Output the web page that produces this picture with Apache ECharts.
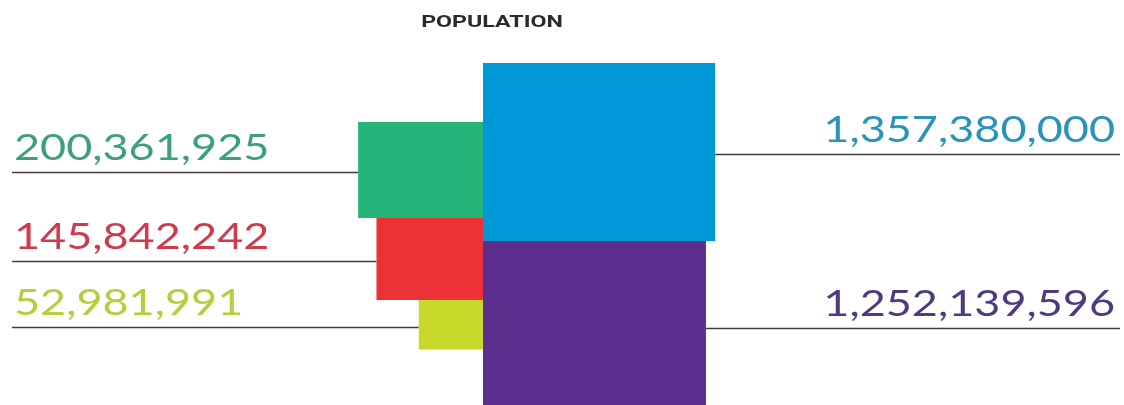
<!DOCTYPE html>
<html><head><meta charset="utf-8">
<script src="https://cdn.jsdelivr.net/npm/echarts@6/dist/echarts.min.js"></script>
<style>html,body{margin:0;padding:0;background:#fff}#c{width:1124px;height:405px}</style>
</head><body><div id="c"></div>
<script>
// ---- data ----
const titleText = 'POPULATION';
const rightCountries = ['China', 'India'];
const rightPopulation = [1357380000, 1252139596];
const leftCountries = ['Brazil', 'Russia', 'South Africa'];
const leftPopulation = [200361925, 145842242, 52981991];

// ---- styles ----
const rightFills = ['#0098d6', '#5b2d8e'];
const rightTextFills = ['#2a93bd', '#4f3a7e'];
const leftFills = ['#23b478', '#ec3237', '#c9d92c'];
const leftTextFills = ['#3c9f80', '#cf3a4c', '#b9cc3c'];

// square side = sqrt(population in millions); squares stacked downward
function stackData(countries, pops) {
  let off = 0;
  return pops.map((p, i) => {
    const s = Math.sqrt(p / 1e6);
    const d = { name: countries[i], value: [s, off, p] };
    off += s;
    return d;
  });
}

function makeRender(side, fills, textFills) {
  return function (params, api) {
    const s = api.value(0), off = api.value(1), pop = api.value(2);
    const a = api.coord([0, off]), b = api.coord([s, off + s]);
    const x0 = Math.min(a[0], b[0]), x1 = Math.max(a[0], b[0]);
    const y0 = Math.min(a[1], b[1]), y1 = Math.max(a[1], b[1]);
    const ly = Math.round((y0 + y1) / 2 + 2) + 0.5;
    const W = api.getWidth();
    const i = params.dataIndex;
    const label = Number(pop).toLocaleString('en-US');
    const rect = { type: 'rect', shape: { x: x0, y: y0, width: x1 - x0, height: y1 - y0 },
      style: { fill: fills[i] }, z2: 10 };
    let line, text;
    if (side === 'right') {
      line = { type: 'line', shape: { x1: x1, y1: ly, x2: W - 4, y2: ly },
        style: { stroke: '#3d3d3d', lineWidth: 1.5 } };
      text = { type: 'text', x: W - 9, y: ly - 24, scaleX: 1.25,
        style: { text: label, x: 0, y: 0, align: 'right', verticalAlign: 'middle',
          font: '36px Lato', fill: textFills[i] } };
    } else {
      line = { type: 'line', shape: { x1: 12, y1: ly, x2: x0, y2: ly },
        style: { stroke: '#3d3d3d', lineWidth: 1.5 } };
      text = { type: 'text', x: 14, y: ly - 24, scaleX: 1.25,
        style: { text: label, x: 0, y: 0, align: 'left', verticalAlign: 'middle',
          font: '36px Lato', fill: textFills[i] } };
    }
    return { type: 'group', children: [line, rect, text] };
  };
}

const chart = echarts.init(document.getElementById('c'));
chart.setOption({
  animation: false,
  backgroundColor: '#ffffff',
  graphic: [{
    type: 'text', x: 492, y: 23, scaleX: 1.45,
    style: { text: titleText, x: 0, y: 0, align: 'center', verticalAlign: 'middle',
      font: 'bold 16px Roboto', fill: '#2b2b2b' }
  }],
  grid: [
    { left: 483, top: 63, width: 252, height: 338.1 },
    { left: 306.6, top: 122, width: 176.4, height: 203.7 }
  ],
  xAxis: [
    { type: 'value', gridIndex: 0, min: 0, max: 40, show: false },
    { type: 'value', gridIndex: 1, min: 0, max: 20, inverse: true, show: false }
  ],
  yAxis: [
    { type: 'value', gridIndex: 0, min: 0, max: 70, inverse: true, show: false },
    { type: 'value', gridIndex: 1, min: 0, max: 30, inverse: true, show: false }
  ],
  series: [
    { type: 'custom', xAxisIndex: 0, yAxisIndex: 0, clip: false,
      renderItem: makeRender('right', rightFills, rightTextFills),
      data: stackData(rightCountries, rightPopulation) },
    { type: 'custom', xAxisIndex: 1, yAxisIndex: 1, clip: false,
      renderItem: makeRender('left', leftFills, leftTextFills),
      data: stackData(leftCountries, leftPopulation) }
  ]
});
</script></body></html>
